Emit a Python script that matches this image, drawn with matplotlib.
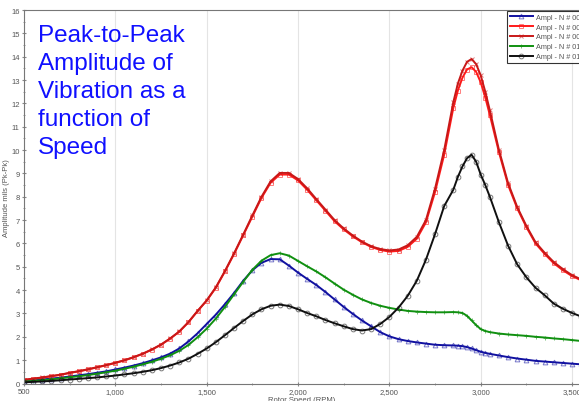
import numpy as np
import matplotlib.pyplot as plt
from matplotlib.ticker import MultipleLocator, FuncFormatter

plt.rcParams['font.family'] = ['Liberation Sans', 'DejaVu Sans']

# rotor speed sweep (RPM), finer steps around the second critical speed
rpm = np.sort(np.r_[np.arange(500, 3551, 50), [2875, 2925, 2975, 3025]])

# peak-to-peak amplitude (mils) per probe
amp_001 = [0.10, 0.13, 0.17, 0.21, 0.25, 0.30, 0.35, 0.40, 0.46, 0.52,
           0.60, 0.68, 0.77, 0.87, 0.99, 1.12, 1.28, 1.50, 1.80, 2.15,
           2.55, 2.95, 3.40, 3.88, 4.40, 4.85, 5.17, 5.33, 5.32, 5.05,
           4.75, 4.48, 4.22, 3.92, 3.60, 3.28, 2.98, 2.70, 2.45, 2.20,
           2.02, 1.90, 1.82, 1.76, 1.71, 1.66, 1.64, 1.63,
           1.62, 1.60, 1.56, 1.50, 1.43, 1.36, 1.31,
           1.27, 1.20, 1.13, 1.07, 1.02, 0.97, 0.94, 0.91, 0.88,
           0.85, 0.82]
amp_002 = [0.15, 0.20, 0.25, 0.31, 0.37, 0.45, 0.52, 0.60, 0.69, 0.78,
           0.88, 0.99, 1.12, 1.27, 1.45, 1.66, 1.92, 2.22, 2.62, 3.10,
           3.55, 4.10, 4.80, 5.55, 6.35, 7.15, 7.95, 8.60, 8.95, 8.95,
           8.70, 8.30, 7.85, 7.40, 6.95, 6.60, 6.30, 6.05, 5.85, 5.72,
           5.65, 5.68, 5.85, 6.20, 6.90, 8.20, 9.80, 11.80,
           12.55, 13.10, 13.45, 13.55, 13.35, 12.90, 12.25,
           11.50, 9.90, 8.50, 7.50, 6.70, 6.00, 5.55, 5.15, 4.85,
           4.60, 4.42]
amp_003 = [0.16, 0.21, 0.26, 0.32, 0.38, 0.46, 0.53, 0.61, 0.70, 0.79,
           0.89, 1.00, 1.13, 1.28, 1.46, 1.67, 1.93, 2.23, 2.63, 3.11,
           3.56, 4.12, 4.82, 5.58, 6.38, 7.20, 8.00, 8.66, 9.02, 9.02,
           8.76, 8.36, 7.90, 7.45, 7.00, 6.64, 6.34, 6.08, 5.88, 5.76,
           5.70, 5.74, 5.92, 6.28, 7.00, 8.35, 10.00, 12.05,
           12.85, 13.40, 13.78, 13.90, 13.68, 13.20, 12.50,
           11.70, 10.00, 8.58, 7.56, 6.75, 6.05, 5.60, 5.20, 4.90,
           4.64, 4.46]
amp_010 = [0.08, 0.11, 0.14, 0.18, 0.22, 0.27, 0.31, 0.36, 0.42, 0.48,
           0.55, 0.63, 0.72, 0.82, 0.93, 1.06, 1.21, 1.40, 1.65, 1.98,
           2.35, 2.78, 3.28, 3.82, 4.36, 4.87, 5.26, 5.50, 5.58, 5.48,
           5.25, 5.02, 4.80, 4.55, 4.28, 4.02, 3.80, 3.60, 3.45, 3.33,
           3.24, 3.17, 3.11, 3.08, 3.06, 3.05, 3.05, 3.06,
           3.05, 3.02, 2.90, 2.70, 2.50, 2.33, 2.25,
           2.20, 2.14, 2.10, 2.07, 2.04, 2.00, 1.97, 1.93, 1.90,
           1.86, 1.82]
amp_011 = [0.05, 0.07, 0.09, 0.11, 0.14, 0.17, 0.20, 0.23, 0.26, 0.30,
           0.34, 0.39, 0.44, 0.50, 0.57, 0.66, 0.77, 0.90, 1.06, 1.27,
           1.50, 1.77, 2.07, 2.38, 2.68, 2.96, 3.18, 3.33, 3.38, 3.32,
           3.18, 3.02, 2.88, 2.72, 2.58, 2.45, 2.33, 2.27, 2.33, 2.55,
           2.85, 3.25, 3.75, 4.40, 5.30, 6.40, 7.60, 8.30,
           8.85, 9.30, 9.65, 9.80, 9.50, 8.95, 8.50,
           8.00, 6.90, 5.90, 5.10, 4.55, 4.10, 3.78, 3.42, 3.20,
           3.02, 2.87]

series = [
    (amp_001, 'Ampl - N # 001', '#1010a0', '^'),
    (amp_002, 'Ampl - N # 002', '#ff1a1a', 's'),
    (amp_003, 'Ampl - N # 003', '#c81818', 'x'),
    (amp_010, 'Ampl - N # 010', '#109010', '+'),
    (amp_011, 'Ampl - N # 011', '#101010', 'o'),
]

fig = plt.figure(figsize=(5.79, 4.02), dpi=100)
ax = fig.add_axes([24 / 579, 17.5 / 402, 555 / 579, 373.5 / 402])

for vals, label, color, marker in series:
    ax.plot(rpm, vals, color=color, lw=1.4, marker=marker, ms=3.4,
            mfc='none', mec=color + '90', mew=0.7, label=label)

ax.set_xlim(500, 3538)
ax.set_ylim(0, 16)
ax.xaxis.set_major_locator(MultipleLocator(500))
ax.xaxis.set_minor_locator(MultipleLocator(250))
ax.yaxis.set_major_locator(MultipleLocator(1))
ax.yaxis.set_minor_locator(MultipleLocator(0.5))
ax.xaxis.set_major_formatter(FuncFormatter(lambda v, p: f'{int(v):,}'))
ax.tick_params(which='both', direction='inout', colors='#888888',
               labelcolor='#555555', labelsize=5.5, pad=1.5)
ax.tick_params(which='major', length=3)
ax.tick_params(which='minor', length=2)
ax.grid(axis='x', which='major', color='#e4e4e4', lw=0.8)
ax.set_axisbelow(True)

ax.spines['right'].set_visible(False)
for side in ['left', 'top', 'bottom']:
    ax.spines[side].set_color('#777777')
    ax.spines[side].set_linewidth(0.8)

ax.set_xlabel('Rotor Speed (RPM)', fontsize=5.5, color='#555555', labelpad=1)
ax.set_ylabel('Amplitude mils (Pk-Pk)', fontsize=5.5, color='#555555')
ax.yaxis.set_label_coords(-14 / 555, 0.5)

ax.text(38 / 579, 1 - 25 / 402,
        'Peak-to-Peak\nAmplitude of\nVibration as a\nfunction of\nSpeed',
        transform=fig.transFigure, color='#1010ff', fontsize=17.5,
        va='top', ha='left', linespacing=1.36)

leg = ax.legend(loc='upper left', bbox_to_anchor=(507 / 579, 1 - 12 / 402),
                bbox_transform=fig.transFigure, fontsize=5.2, frameon=True,
                fancybox=False, borderpad=0.35, labelspacing=0.4,
                handlelength=3.2, handletextpad=0.4, borderaxespad=0)
leg.get_frame().set_edgecolor('black')
leg.get_frame().set_linewidth(0.8)
for t in leg.get_texts():
    t.set_color('#555555')

plt.savefig('out.png', dpi=100)
